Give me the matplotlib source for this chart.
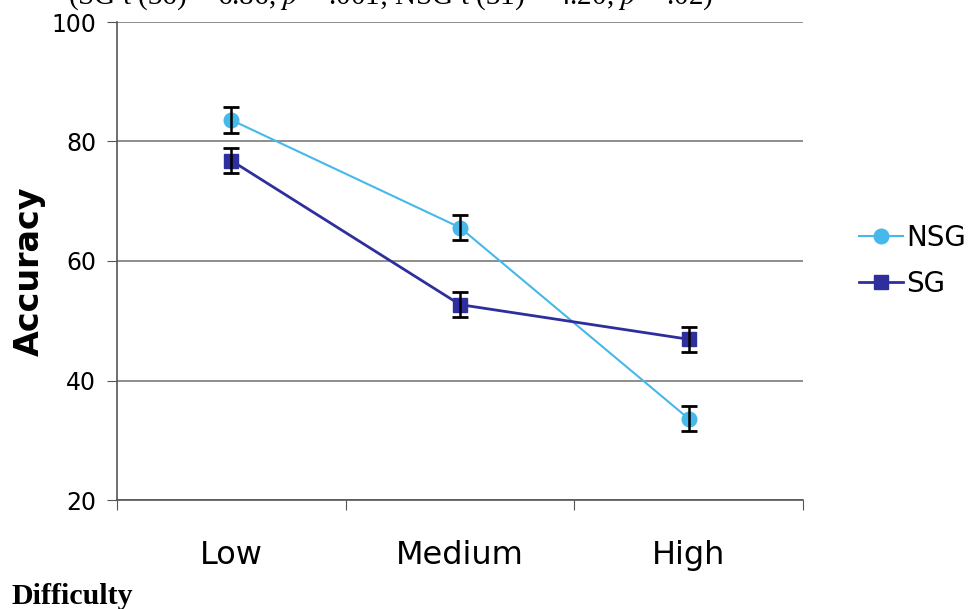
import matplotlib.pyplot as plt
import numpy as np

plt.rcParams['mathtext.fontset'] = 'stix'

difficulty = ['Low', 'Medium', 'High']
nsg_acc = [83.6, 65.6, 33.6]
nsg_err = [2.1, 2.1, 2.1]
sg_acc = [76.8, 52.7, 46.9]
sg_err = [2.1, 2.1, 2.1]

NSG_COLOR = '#46b8ea'
SG_COLOR = '#2e2f9c'

fig = plt.figure(figsize=(9.8, 6.09), dpi=100)
ax = fig.add_axes([117 / 980, 109 / 609, 686 / 980, 478 / 609])

x = np.arange(len(difficulty))
for acc, err, col, mk, lw, lab in [(nsg_acc, nsg_err, NSG_COLOR, 'o', 1.5, 'NSG'),
                                   (sg_acc, sg_err, SG_COLOR, 's', 2.0, 'SG')]:
    ax.plot(x, acc, color=col, lw=lw, marker=mk, markersize=10.5,
            label=lab, zorder=3)
    ax.errorbar(x, acc, yerr=err, fmt='none', ecolor='black', elinewidth=1.8,
                capsize=6, capthick=2.0, zorder=4)

ax.set_xlim(-0.5, 2.5)
ax.set_ylim(20, 100)
ax.set_yticks([20, 40, 60, 80, 100])
# category boundaries get the tick marks, category names sit between them
ax.set_xticks([-0.5, 0.5, 1.5, 2.5])
ax.set_xticklabels([])
ax.set_xticks(x, minor=True)
ax.set_xticklabels(difficulty, minor=True, fontsize=23)
ax.tick_params(axis='x', which='minor', length=0, pad=29)
ax.tick_params(axis='x', which='major', length=7, direction='out', color='#555555')
ax.tick_params(axis='y', length=7, direction='out', color='#555555',
               labelsize=17, pad=8)
ax.yaxis.grid(True, color='#7a7a7a', lw=1.2)
ax.set_axisbelow(True)
for side in ['top', 'right']:
    ax.spines[side].set_visible(False)
for side in ['left', 'bottom']:
    ax.spines[side].set_color('#555555')
    ax.spines[side].set_linewidth(1.2)

ax.set_ylabel('Accuracy', fontsize=24, fontweight='bold')
ax.yaxis.set_label_coords(-0.104, 0.478)

ax.legend(loc='center left', bbox_to_anchor=(1.045, 0.5), frameon=False,
          fontsize=20, handlelength=1.6, handletextpad=0.1, labelspacing=0.65)

fig.text(68 / 980, 1 - 4 / 609,
         r'(SG t (36) = 6.86, $p$ = .001; NSG t (31) = 4.20, $p$ = .02)',
         fontsize=21, family='Liberation Serif', va='baseline', ha='left')
fig.text(12 / 980, 12 / 609, 'Difficulty', fontsize=21.5, family='Liberation Serif',
         fontweight='bold', va='center', ha='left')

fig.savefig('out.png', dpi=100)
